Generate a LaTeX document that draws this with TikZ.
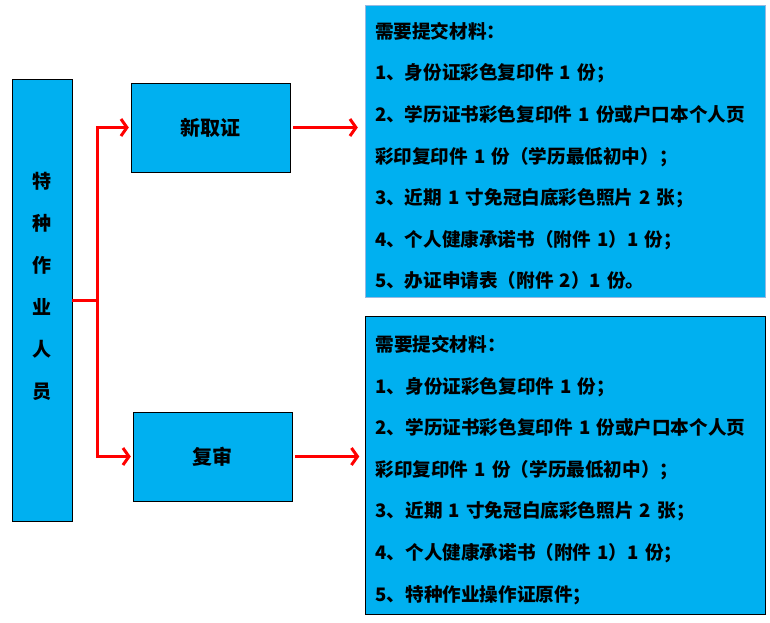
\documentclass[tikz,border=0pt]{standalone}
\usepackage{fontspec}
\setmainfont{Noto Sans CJK SC}
\usetikzlibrary{arrows.meta,positioning}
\definecolor{boxcyan}{HTML}{00B0F0}
\definecolor{paleedge}{RGB}{150,185,225}
\tikzset{
  person/.style={draw, fill=boxcyan, align=center, minimum width=60pt,
                 minimum height=442pt, font=\fontsize{19}{42}\selectfont\bfseries,
                 text depth=30pt},
  kind/.style={draw, fill=boxcyan, minimum width=159pt, minimum height=89pt,
               font=\fontsize{20}{24}\selectfont\bfseries},
  material/.style={draw, fill=boxcyan, align=left, text width=380pt,
                   inner xsep=10pt, font=\fontsize{18.6}{41.6}\selectfont\bfseries},
  flowarrow/.style={-{Straight Barb[length=6pt,width=17pt]}, red,
                    line width=3pt}
}
\newcommand{\firstline}{\rule{0pt}{26pt}}
\begin{document}
\begin{tikzpicture}[x=1pt, y=-1pt]
  \useasboundingbox (0,0) rectangle (770,622);
  \node[person] (worker) at (42,300)
    {特\\种\\作\\业\\人\\员};
  \node[kind] (new) at (210.5,127.5) {新取证};
  \node[kind] (review) at (212.5,456.5) {复审};
  \node[material, draw=paleedge, minimum height=292pt] (mat1) at (565,151)
    {\firstline 需要提交材料：\\
     1、身份证彩色复印件 1 份；\\
     2、学历证书彩色复印件 1 份或户口本个人页\\
     彩印复印件 1 份（学历最低初中）；\\
     3、近期 1 寸免冠白底彩色照片 2 张；\\
     4、个人健康承诺书（附件 1）1 份；\\
     5、办证申请表（附件 2）1 份。};
  \node[material, minimum height=298pt] (mat2) at (565.5,465)
    {\firstline 需要提交材料：\\
     1、身份证彩色复印件 1 份；\\
     2、学历证书彩色复印件 1 份或户口本个人页\\
     彩印复印件 1 份（学历最低初中）；\\
     3、近期 1 寸免冠白底彩色照片 2 张；\\
     4、个人健康承诺书（附件 1）1 份；\\
     5、特种作业操作证原件；};
  % branches from the left column
  \draw[flowarrow, shorten >=2pt] (worker.east) -- ++(25,0) |- (new.west);
  \draw[flowarrow, shorten >=2pt] (worker.east) -- ++(25,0) |- (review.west);
  \draw[flowarrow, shorten <=3pt, shorten >=7pt]
    (new.east) -- (new.east -| mat1.west);
  \draw[flowarrow, shorten <=3pt, shorten >=6pt]
    (review.east) -- (review.east -| mat2.west);
\end{tikzpicture}
\end{document}
